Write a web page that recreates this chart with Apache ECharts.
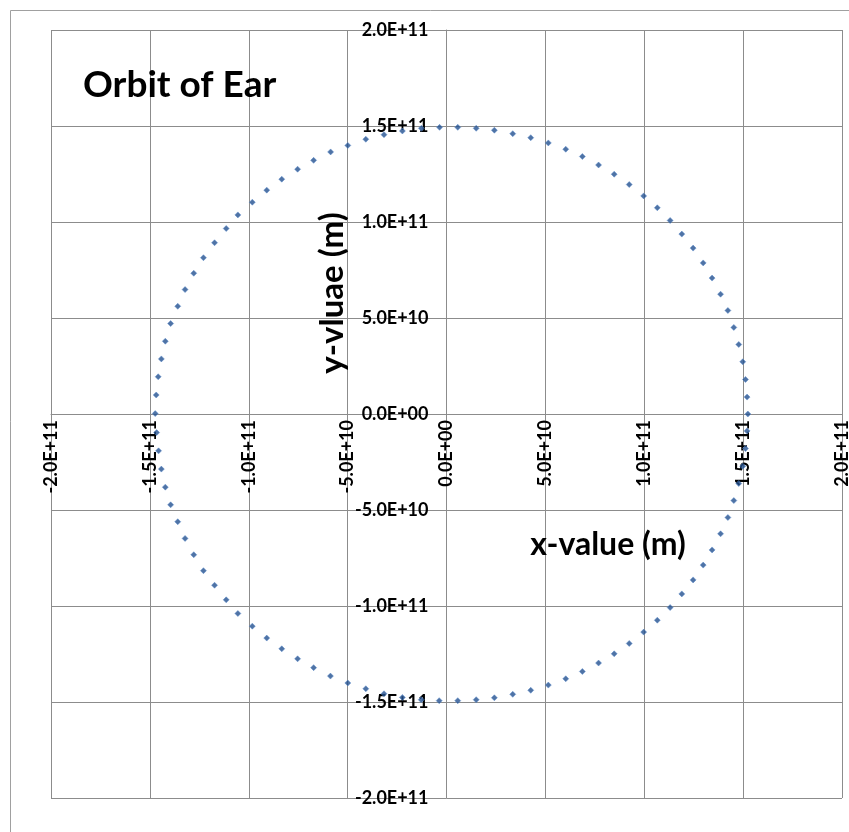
<!DOCTYPE html>
<html>
<head>
<meta charset="utf-8">
<script src="https://cdn.jsdelivr.net/npm/echarts@6/dist/echarts.min.js"></script>
<style>
html,body{margin:0;padding:0;background:#fff;}
#chart{width:849px;height:832px;}
</style>
</head>
<body>
<div id="chart"></div>
<script>
// Orbit positions, in units of 1e10 m, counter-clockwise from (1.524e11, 0)
var xValues = [
  15.24, 15.20, 15.12, 14.98, 14.78, 14.53, 14.23, 13.86, 13.43, 12.98, 12.47, 11.90, 11.31, 10.66, 9.97, 9.24, 8.48, 7.69, 6.87, 6.03, 5.15, 4.26, 3.35, 2.42, 1.50, 0.57,
  -0.35, -1.27, -2.23, -3.16, -4.08, -4.99, -5.86, -6.72, -7.53, -8.33, -9.09, -9.82, -10.55, -11.14, -11.73, -12.29, -12.78, -13.22, -13.59, -13.95, -14.22, -14.42, -14.58, -14.68, -14.73,
  -14.66, -14.56, -14.42, -14.22, -13.95, -13.59, -13.22, -12.78, -12.29, -11.73, -11.14, -10.55, -9.82, -9.09, -8.33, -7.53, -6.72, -5.87, -4.99, -4.08, -3.16, -2.23, -1.28, -0.37,
  0.57, 1.50, 2.42, 3.35, 4.26, 5.15, 6.03, 6.87, 7.69, 8.48, 9.24, 9.97, 10.66, 11.31, 11.90, 12.47, 12.98, 13.43, 13.86, 14.23, 14.53, 14.78, 14.98, 15.12, 15.20
];
var yValues = [
  0.00, 0.88, 1.80, 2.72, 3.62, 4.51, 5.39, 6.24, 7.08, 7.87, 8.64, 9.37, 10.08, 10.74, 11.36, 11.95, 12.49, 12.97, 13.41, 13.79, 14.12, 14.39, 14.60, 14.78, 14.88, 14.93,
  14.93, 14.88, 14.74, 14.55, 14.31, 13.99, 13.65, 13.21, 12.75, 12.23, 11.66, 11.03, 10.37, 9.66, 8.92, 8.14, 7.33, 6.48, 5.61, 4.71, 3.79, 2.87, 1.94, 0.99, 0.02,
  -0.97, -1.92, -2.87, -3.81, -4.73, -5.61, -6.48, -7.33, -8.16, -8.92, -9.68, -10.39, -11.05, -11.67, -12.23, -12.75, -13.21, -13.65, -14.01, -14.31, -14.57, -14.76, -14.88, -14.93,
  -14.93, -14.88, -14.78, -14.60, -14.39, -14.12, -13.79, -13.41, -12.97, -12.49, -11.95, -11.36, -10.74, -10.08, -9.37, -8.64, -7.87, -7.08, -6.24, -5.39, -4.51, -3.62, -2.72, -1.80, -0.88
];
var unit = 1e10;
var titleText = 'Orbit of Ear';
var xName = 'x-value (m)';
var yName = 'y-vluae (m)';
var axisMin = -2e11, axisMax = 2e11, axisStep = 5e10;

function sci(v) {
  if (Math.abs(v) < 1) return '0.0E+00';
  var e = Math.floor(Math.log10(Math.abs(v)) + 1e-9);
  var m = v / Math.pow(10, e);
  var s = e < 0 ? '-' : '+';
  var ea = Math.abs(e);
  return m.toFixed(1) + 'E' + s + (ea < 10 ? '0' + ea : '' + ea);
}

var points = xValues.map(function (x, i) { return [x * unit, yValues[i] * unit]; });

var gridColor = '#8c8c8c';
var labelFont = { color: '#000', fontWeight: 'bold', fontFamily: 'Lato', fontSize: 18 };

var chart = echarts.init(document.getElementById('chart'), null, { renderer: 'canvas' });
chart.setOption({
  animation: false,
  backgroundColor: '#fff',
  title: {
    text: titleText, left: 78, top: 62,
    textStyle: { fontFamily: 'Lato', fontWeight: 'bold', fontSize: 37, color: '#000' }
  },
  grid: { left: 51, right: 7, top: 30, bottom: 34, containLabel: false, outerBoundsMode: 'none' },
  xAxis: {
    type: 'value', min: axisMin, max: axisMax, interval: axisStep, position: 'bottom', offset: 0,
    axisLine: { onZero: false, lineStyle: { color: gridColor, width: 1 } },
    axisTick: { show: false },
    splitLine: { show: true, lineStyle: { color: gridColor, width: 1 } },
    axisLabel: Object.assign({ rotate: 90, margin: 6, formatter: sci, hideOverlap: false }, labelFont)
  },
  yAxis: {
    type: 'value', min: axisMin, max: axisMax, interval: axisStep, position: 'left', offset: 0,
    axisLine: { onZero: false, lineStyle: { color: gridColor, width: 1 } },
    axisTick: { show: false },
    splitLine: { show: true, lineStyle: { color: gridColor, width: 1 } },
    axisLabel: Object.assign({ margin: 18, formatter: sci, hideOverlap: false }, labelFont)
  },
  graphic: [
    { type: 'rect', silent: true, shape: { x: 10.5, y: 10.5, width: 1000, height: 1000 },
      style: { fill: 'none', stroke: '#a0a0a0', lineWidth: 1 }, z: -1 },
    { type: 'text', x: 608, y: 545, z: 10,
      style: { text: xName, font: 'bold 32px Lato', fill: '#000', textAlign: 'center', textVerticalAlign: 'middle' } },
    { type: 'text', x: 332, y: 293, rotation: Math.PI / 2, z: 10,
      style: { text: yName, font: 'bold 33px Lato', fill: '#000', textAlign: 'center', textVerticalAlign: 'middle' } }
  ],
  series: [{
    type: 'scatter',
    data: points,
    symbol: 'diamond',
    symbolSize: 6,
    itemStyle: { color: '#23508f', borderColor: '#5b8ccc', borderWidth: 0.6 }
  }]
});

// Move both axes so they cross at the data origin, using the library's own scales.
var xZero = chart.convertToPixel({ xAxisIndex: 0 }, 0);
var xLeft = chart.convertToPixel({ xAxisIndex: 0 }, axisMin);
var yZero = chart.convertToPixel({ yAxisIndex: 0 }, 0);
var yBottom = chart.convertToPixel({ yAxisIndex: 0 }, axisMin);
chart.setOption({
  xAxis: { offset: -(yBottom - yZero) },
  yAxis: { offset: -(xZero - xLeft) }
});
</script>
</body>
</html>
